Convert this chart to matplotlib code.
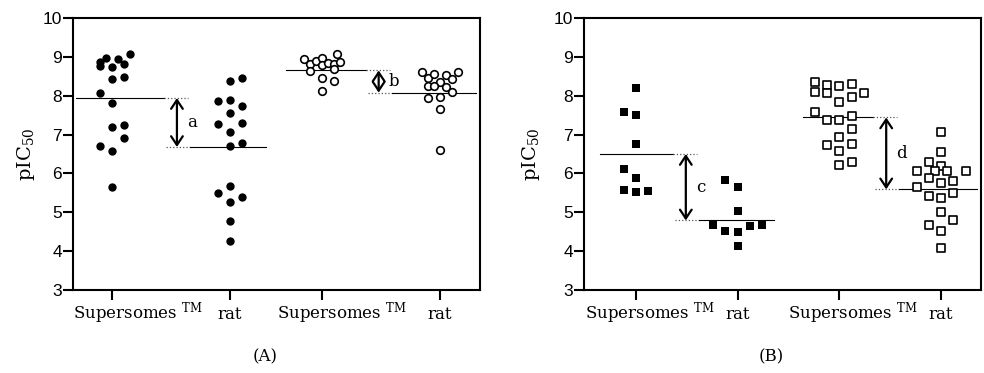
import matplotlib
matplotlib.use('Agg')
import matplotlib.pyplot as plt
import matplotlib.transforms as mtransforms

plt.rcParams['mathtext.fontset'] = 'dejavuserif'

# panel A: circles (filled = first pair, open = second pair)
a_sup1 = [8.88, 8.77, 8.98, 8.75, 8.95, 8.82, 9.07, 8.42, 8.49, 8.06, 7.80, 7.20, 7.24, 6.90, 6.71, 6.59, 5.65]
a_rat1 = [8.37, 8.46, 7.87, 7.88, 7.74, 7.55, 7.26, 7.30, 7.07, 6.71, 6.78, 5.50, 5.67, 5.27, 5.39, 4.77, 4.26]
a_sup2 = [8.94, 8.82, 8.64, 8.90, 8.96, 8.79, 8.83, 8.82, 8.68, 9.07, 8.87, 8.45, 8.38, 8.12]
a_rat2 = [8.60, 8.46, 8.56, 8.36, 8.25, 8.25, 8.53, 8.23, 8.44, 8.61, 8.10, 7.95, 7.97, 7.65, 6.60]
a_means = [7.94, 6.68, 8.65, 8.08]

# panel B: squares
b_sup1 = [8.21, 7.58, 7.50, 6.76, 6.12, 5.89, 5.57, 5.53, 5.55]
b_rat1 = [5.82, 5.66, 5.03, 4.68, 4.51, 4.49, 4.65, 4.67, 4.12]
b_sup2 = [8.35, 8.10, 8.28, 8.08, 8.25, 8.30, 7.83, 7.97, 8.08, 7.59, 7.38, 7.38, 7.49, 7.14,
          6.93, 6.72, 6.76, 6.57, 6.22, 6.29]
b_rat2 = [7.06, 6.55, 6.30, 6.20, 6.05, 6.05, 6.05, 6.05, 5.87, 5.75, 5.81, 5.66, 5.42, 5.38,
          5.49, 5.01, 4.67, 4.80, 4.51, 4.09]
b_means = [6.50, 4.79, 7.44, 5.59]

categories = ['Supersomes', 'rat', 'Supersomes', 'rat']
diff_letters_a = ['a', 'b']
diff_letters_b = ['c', 'd']

# dot-plot column slots (layout only)
jit_a = [[-1, -1, -0.5, 0, 0.5, 1, 1.5, 0, 1, -1, 0, 0, 1, 1, -1, 0, 0],
         [0, 1, -1, 0, 1, 0, -1, 1, 0, 0, 1, -1, 0, 0, 1, 0, 0],
         [-1.5, -1, -1, -0.5, 0, 0, 0.5, 1, 1, 1.25, 1.5, 0, 1, 0],
         [-1.5, -1, -0.5, 0, -1, -0.5, 0.5, 0.5, 1, 1.5, 1, -1, 0, 0, 0]]
jit_b = [[0, -1, 0, 0, -1, 0, -1, 0, 1],
         [-1, 0, 0, -2, -1, 0, 1, 2, 0],
         [-2, -2, -1, -1, 0, 1, 0, 1, 2, -2, -1, 0, 1, 1, 0, -1, 1, 0, 0, 1],
         [0, 0, -1, 0, -2, -0.5, 0.5, 2, -1, 0, 1, -2, -1, 0, 1, 0, -1, 1, 0, 0]]

serif = 'DejaVu Serif'
fig = plt.figure(figsize=(9.84, 3.73), dpi=100)


def px_shift(dx, dy=0):
    return mtransforms.ScaledTranslation(dx / 100, dy / 100, fig.dpi_scale_trans)


def panel(rect, pos, xlim, series, jits, means, markers, fills, arrow_frac, letters,
          sup_dx, ylabel_x):
    ax = fig.add_axes(rect)
    ax.set_xlim(xlim)
    ax.set_ylim(3, 10)
    ppu = rect[2] * 984 / (xlim[1] - xlim[0])   # pixels per x unit
    slot = 12.2 / ppu

    for vals, jit, p, m, f in zip(series, jits, pos, markers, fills):
        xs = [p + j * slot for j in jit]
        if f:
            ax.scatter(xs, vals, marker=m, s=36 if m == 'o' else 30, c='black',
                       linewidths=0, zorder=3)
        else:
            ax.scatter(xs, vals, marker=m, s=30 if m == 'o' else 28, facecolors='white',
                       edgecolors='black', linewidths=1.2, zorder=3)

    for k in range(2):
        p1, p2 = pos[2 * k], pos[2 * k + 1]
        m1, m2 = means[2 * k], means[2 * k + 1]
        xa = p1 + arrow_frac[k] * (p2 - p1)
        ax.plot([p1 - 36 / ppu, xa - 13 / ppu], [m1, m1], color='black', lw=0.8)
        ax.plot([xa - 13 / ppu, xa + 11 / ppu], [m1, m1], color='#555555', lw=0.9, ls=':')
        ax.plot([xa - 11 / ppu, xa + 13 / ppu], [m2, m2], color='#555555', lw=0.9, ls=':')
        ax.plot([xa + 13 / ppu, p2 + 36 / ppu], [m2, m2], color='black', lw=0.8)
        ax.annotate('', xy=(xa, m2), xytext=(xa, m1),
                    arrowprops=dict(arrowstyle='<->, head_length=0.45, head_width=0.3',
                                    lw=1.6, color='black', shrinkA=0, shrinkB=0,
                                    mutation_scale=14))
        ax.text(xa, (m1 + m2) / 2, letters[k], transform=ax.transData + px_shift(15),
                ha='center', va='center', family=serif, fontsize=12)

    ax.set_xticks(pos)
    ax.set_xticklabels([])
    ax.set_yticks(range(3, 11))
    ax.tick_params(axis='both', direction='out', length=7, width=1.5, pad=1)
    ax.tick_params(axis='y', labelsize=12.5)
    for lab in ax.get_yticklabels():
        lab.set_family('Liberation Sans')
    for s in ax.spines.values():
        s.set_linewidth(1.5)

    base = mtransforms.blended_transform_factory(ax.transData, ax.transAxes)
    for i, (p, name) in enumerate(zip(pos, categories)):
        if name == 'rat':
            ax.text(p, -0.105, name, transform=base, ha='center', va='baseline',
                    family=serif, fontsize=12)
        else:
            ax.text(p, -0.105, name + r' $^{\mathrm{TM}}$', transform=base + px_shift(sup_dx[i // 2]),
                    ha='left', va='baseline', family=serif, fontsize=12)

    ax.set_ylabel('pIC$_{50}$', family=serif, fontsize=14)
    ax.yaxis.set_label_coords(ylabel_x, 0.5)
    return ax


panel([73 / 984, 83 / 373, 407 / 984, 272 / 373], [1, 2, 2.78, 3.78], (0.669, 4.119),
      [a_sup1, a_rat1, a_sup2, a_rat2], jit_a, a_means, ['o'] * 4,
      [True, True, False, False], [0.55, 0.48], diff_letters_a, [-39, -45], -0.088)

panel([584 / 984, 83 / 373, 397 / 984, 272 / 373], [1, 2, 3, 4], (0.489, 4.392),
      [b_sup1, b_rat1, b_sup2, b_rat2], jit_b, b_means, ['s'] * 4,
      [True, True, False, False], [0.49, 0.46], diff_letters_b, [-51, -51], -0.106)

fig.text(265 / 984, 1 - 357 / 373, '(A)', ha='center', va='center', family=serif, fontsize=12)
fig.text(771 / 984, 1 - 357 / 373, '(B)', ha='center', va='center', family=serif, fontsize=12)

fig.savefig('out.png', dpi=100)
